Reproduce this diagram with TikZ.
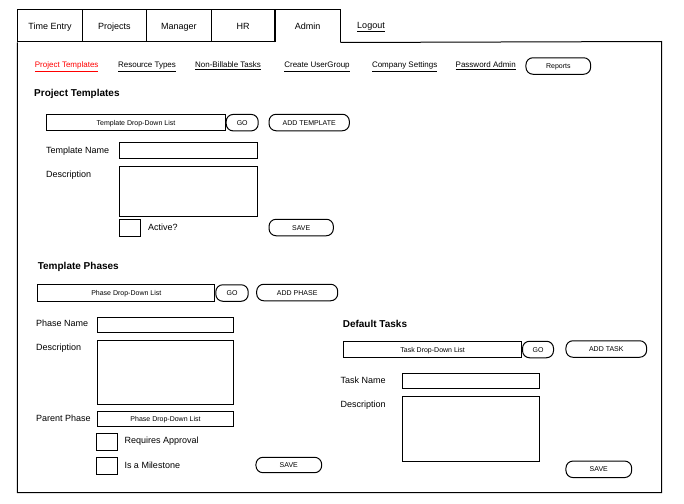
\documentclass[tikz,border=0pt]{standalone}
\usepackage{fontspec}
\setmainfont{Liberation Sans}
\usetikzlibrary{positioning}

\begin{document}
\begin{tikzpicture}[x=1pt,y=-1pt,line width=1pt,
	tab/.style={draw,anchor=north west,minimum width=64.4pt,minimum height=32pt,inner sep=0pt,text height=6.5pt,text depth=0pt,font=\fontsize{9}{10}\selectfont},
	link/.style={inner sep=0pt,text height=5.8pt,text depth=0pt,font=\fontsize{8}{9}\selectfont},
	heading/.style={anchor=west,inner sep=0pt,text height=7.2pt,text depth=0pt,font=\fontsize{10}{12}\selectfont\bfseries},
	lbl/.style={anchor=west,inner sep=0pt,text height=6.5pt,text depth=0pt,font=\fontsize{9}{10}\selectfont},
	field/.style={draw,anchor=north west,inner sep=0pt},
	dd/.style={field,text height=5pt,text depth=0pt,font=\fontsize{7}{8}\selectfont},
	btn/.style={draw,rounded corners=7pt,minimum height=16.5pt,inner sep=0pt,text height=5pt,text depth=0pt,font=\fontsize{7}{8}\selectfont}]
		\useasboundingbox (0,0) rectangle (684,503);

		% draw the tabs
		\foreach \x/\n/\t in {17.3/te/Time Entry, 81.7/pr/Projects, 146.1/mg/Manager, 210.5/hr/HR}
			\node[tab] (\n) at (\x,9.5) {\t};
		\node[tab,draw=none] (ad) at (274.9,9.5) {Admin};
		\draw (ad.south west) |- (ad.north east) -- (ad.south east);
		\node[lbl,anchor=center] (logout) at (371,25) {\underline{Logout}};

		% draw the frame
		\draw (ad.south east) -- (661.7,41.5) -- (661.7,492.7) -- (17.3,492.7) -- (te.south west);

		% draw the links
		\node[link,text=red] (lpt) at (66.7,65) {\underline{Project Templates}};
		\foreach \x/\n/\t in {147/lrt/Resource Types, 228/lnb/Non-Billable Tasks, 317/lcu/Create UserGroup, 404.7/lcs/Company Settings, 485.7/lpa/Password Admin}
			\node[link] (\n) at (\x,65) {\underline{\t}};
		\node[btn,minimum width=64.7pt] (reports) at (558.3,66) {Reports};

		% project templates
		\node[heading] (hpt) at (33.7,93) {Project Templates};
		\node[dd,minimum width=178.4pt,minimum height=15.7pt] (tdd) at (46.3,114.3) {Template Drop-Down List};
		\node[btn,minimum width=32pt,right=0pt of tdd] (tgo) {GO};
		\node[btn,minimum width=80.3pt] (tadd) at (309.2,122.5) {ADD TEMPLATE};
		\node[lbl] (tnl) at (45.7,150) {Template Name};
		\node[field,minimum width=137.4pt,minimum height=16pt] (tnf) at (119.3,142.3) {};
		\node[lbl] (tdl) at (45.7,174) {Description};
		\node[field,minimum width=137.4pt,minimum height=49.7pt] (tdf) at (119.3,166) {};
		\node[field,minimum width=20.7pt,minimum height=16.7pt] (tchk) at (119.3,219.3) {};
		\node[lbl] (tact) at (147.7,227) {Active?};
		\node[btn,minimum width=64.3pt] (tsave) at (301.2,227.5) {SAVE};

		% template phases
		\node[heading] (hph) at (37.3,266) {Template Phases};
		\node[dd,minimum width=177pt,minimum height=17pt] (pdd) at (37.3,284) {Phase Drop-Down List};
		\node[btn,minimum width=32.4pt,right=0pt of pdd] (pgo) {GO};
		\node[btn,minimum width=81pt] (padd) at (297.2,292.5) {ADD PHASE};
		\node[lbl] (pnl) at (35.7,323.3) {Phase Name};
		\node[field,minimum width=136.6pt,minimum height=15.6pt] (pnf) at (96.7,316.7) {};
		\node[lbl] (pdl) at (35.7,347.7) {Description};
		\node[field,minimum width=136.6pt,minimum height=64.3pt] (pdf) at (96.7,340) {};
		\node[lbl] (ppl) at (35.7,418.3) {Parent Phase};
		\node[dd,minimum width=136.6pt,minimum height=15.3pt] (ppf) at (96.7,410.7) {Phase Drop-Down List};
		\node[field,minimum width=21pt,minimum height=16.7pt] (pchka) at (95.7,433.3) {};
		\node[lbl] (pra) at (124,440) {Requires Approval};
		\node[field,minimum width=21pt,minimum height=16.4pt] (pchkm) at (95.7,457.3) {};
		\node[lbl] (pms) at (124,465) {Is a Milestone};
		\node[btn,minimum width=65.7pt,minimum height=15.4pt] (psave) at (288.8,465) {SAVE};

		% default tasks
		\node[heading] (hdt) at (342.3,324) {Default Tasks};
		\node[dd,minimum width=177.7pt,minimum height=16.6pt] (kdd) at (343.3,340.7) {Task Drop-Down List};
		\node[btn,minimum width=31pt,right=0pt of kdd] (kgo) {GO};
		\node[btn,minimum width=80.7pt] (kadd) at (606.3,349) {ADD TASK};
		\node[lbl] (knl) at (340,380) {Task Name};
		\node[field,minimum width=137pt,minimum height=15.6pt] (knf) at (402.3,372.7) {};
		\node[lbl] (kdl) at (340,404) {Description};
		\node[field,minimum width=137pt,minimum height=65.3pt] (kdf) at (402.3,396) {};
		\node[btn,minimum width=65.7pt] (ksave) at (598.8,469.3) {SAVE};
	\end{tikzpicture}
\end{document}
